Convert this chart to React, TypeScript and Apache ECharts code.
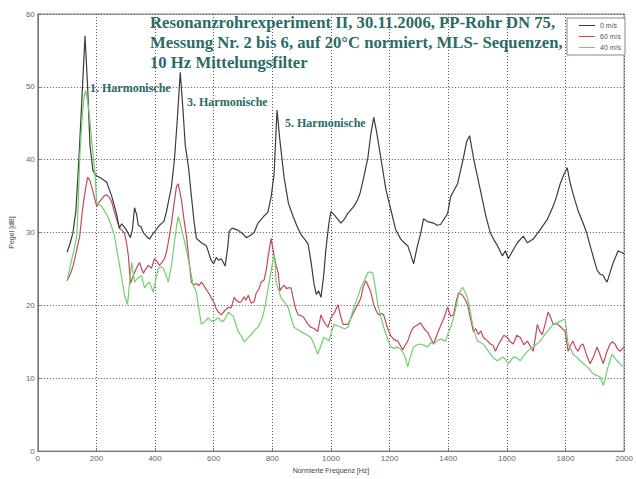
import React, { useEffect, useRef } from "react";
import * as echarts from "echarts";

const seriesNames = ["0 m/s", "60 m/s", "40 m/s"];
const xTicks = [0, 200, 400, 600, 800, 1000, 1200, 1400, 1600, 1800, 2000];

const freq0 = [100,110,120,130,140,150,161,170,178,188,200,215,235,252,269,278,286,300,316,323,330,337,343,352,360,370,381,392,400,415,430,439,456,466,475,486,495,503,514,524,533,541,558,575,592,600,609,616,626,639,648,653,663,684,700,711,725,738,751,770,785,796,806,816,825,840,855,871,885,898,912,922,932,942,950,958,966,975,983,993,1000,1012,1034,1045,1057,1078,1091,1100,1112,1126,1136,1146,1155,1170,1187,1204,1220,1238,1250,1262,1272,1282,1294,1306,1316,1330,1350,1362,1374,1388,1398,1408,1420,1432,1452,1463,1473,1486,1498,1510,1527,1544,1556,1568,1585,1595,1605,1620,1636,1656,1670,1690,1714,1738,1758,1770,1782,1795,1806,1815,1826,1843,1860,1872,1884,1896,1908,1918,1929,1935,1942,1952,1963,1980,1990,2000];
const level0 = [27.3,28.5,30,33,40,48,57,50,42,38.5,37.8,37.5,36.9,35,32.5,30.6,31.2,30.5,29.3,30.5,33.4,32.5,31,30.8,30,29.5,29.1,29.8,30.2,31,31.5,32.9,36.3,40,45,52,47,42,39,35,31.5,29.2,28.6,28.2,26.1,25.7,26.6,26.2,26.4,25.4,28,30.2,30.6,30.3,29.8,29.3,29.6,30,31.3,32.2,32.8,34.9,38,46.8,43,37.6,34,32.2,30.8,29.7,29,28.4,26,23,21.5,22,21.1,24,27.8,31.3,32.9,32.4,31.3,31.8,32.6,33.6,34.5,35.5,37.6,40.3,43.5,45.8,44,40.3,36,33.2,30.5,29.1,28.6,28.2,27,25.7,28,29.9,31.9,31.5,31.3,31,31.1,32,32.6,34.9,35.8,36.7,40.3,42.5,43.3,40.3,38,35.8,32.5,29.9,29,28.2,26.8,27.5,26.4,27.5,28.6,29.5,28.6,29.1,30.4,31.8,33.6,35,36.7,38,38.9,37,35.3,33,31.3,30,28.2,26.5,24.8,24.3,24.1,23.6,23.2,24.5,25.9,27.5,27.3,27.1];

const freq60 = [100,110,121,132,143,152,160,170,177,184,192,201,210,218,226,235,244,252,260,269,279,288,296,303,309,316,323,330,339,347,354,360,368,377,388,398,407,415,424,432,440,448,456,465,473,479,485,490,498,507,515,524,532,541,549,558,570,581,590,602,609,616,626,638,650,660,670,677,687,694,704,710,718,728,738,745,755,762,772,780,786,796,806,813,820,826,830,840,848,854,864,871,880,888,898,908,920,932,944,955,966,978,990,1000,1012,1024,1033,1041,1058,1068,1078,1090,1102,1110,1119,1128,1136,1146,1155,1163,1172,1180,1192,1204,1216,1228,1238,1245,1254,1262,1272,1282,1294,1306,1318,1330,1340,1350,1362,1374,1386,1398,1408,1418,1427,1435,1449,1458,1466,1476,1486,1494,1503,1511,1520,1532,1544,1553,1561,1570,1578,1590,1602,1612,1622,1634,1646,1658,1670,1680,1690,1697,1704,1712,1721,1731,1741,1750,1758,1770,1782,1790,1799,1809,1818,1826,1834,1843,1852,1860,1872,1884,1896,1908,1918,1929,1940,1952,1960,1969,1978,1986,2000];
const level60 = [23.4,24.2,25.5,27.5,29.5,33,35.3,37.6,37.2,36.3,35,33.6,34.2,34.6,35,35.2,34.8,34.2,33,31.8,30.6,30.3,29.9,28.5,26.8,23,23.8,24.5,25.3,25.9,25,24.4,25,25.5,25.1,26.4,26,25.5,25.9,26.4,27.5,29.3,31.3,34,36.3,36.7,35.5,34.5,32,29.5,26.5,23.2,22.8,23,22.7,23.2,22.5,21.8,21.2,20.3,19.5,19.1,18.7,19.3,19.7,19.7,21.1,20.7,20.4,20.5,21.2,20.7,21.4,20.3,20.5,21.7,22.3,23.2,23.5,25,26.8,29.2,26.8,25.5,24.5,22,22.3,22.8,22.3,22.4,22.4,21,19.5,18.7,18.6,18.3,17.5,17,16.8,16.4,18.7,17.6,17,18.3,19,20.1,18.5,17.4,17.4,18.2,19.1,20,21,22.5,23.4,22.6,21.8,20.1,19.2,18.7,18.9,18.7,17,15.8,15.3,15.1,14.4,13.9,14.6,15.1,16.3,17,17.3,17.6,16.8,16.3,15.5,14.7,16,17.2,18.3,19.8,18.5,18.7,20.5,21.7,21.4,20.8,20.1,18.2,16.4,16.8,16,16.5,15.6,15.2,14.7,14.5,13.7,14.5,15.1,15.9,15.6,15,14.7,15.9,15.6,14.6,15.1,14.4,13.7,15.5,17.4,16.5,16,17.5,19.1,18.3,17.4,17.5,17.1,16.8,16.4,13.7,14.6,15.1,14.2,13.7,14.5,14.7,13.2,12,13,14.3,13.2,12,13.5,14.7,15,14.7,14,13.7,14.3];

const freq40 = [100,110,121,133,138,143,150,157,163,170,177,184,190,196,201,210,218,230,241,252,262,270,279,288,296,306,313,320,330,342,354,364,372,381,394,402,411,420,428,437,445,456,466,473,479,487,496,505,513,522,530,541,547,558,570,581,590,599,608,616,624,633,642,650,660,667,676,684,694,704,716,728,740,751,760,769,778,786,795,803,808,813,822,830,842,854,864,874,886,898,915,932,944,955,966,976,985,993,1001,1010,1022,1034,1046,1058,1068,1078,1090,1102,1114,1126,1135,1143,1152,1160,1170,1180,1192,1204,1216,1228,1237,1245,1254,1262,1270,1282,1294,1306,1318,1330,1340,1350,1362,1374,1391,1401,1410,1418,1427,1435,1442,1449,1458,1466,1475,1483,1491,1500,1510,1520,1532,1544,1556,1568,1578,1588,1596,1605,1614,1622,1634,1646,1658,1670,1680,1690,1702,1714,1726,1738,1748,1758,1770,1782,1790,1799,1809,1818,1826,1838,1850,1862,1874,1884,1894,1906,1918,1924,1929,1936,1942,1950,1959,1968,1976,1986,1997];
const level40 = [23.4,25.3,27.2,29.5,34,40.3,45,48.5,49.5,48,45.7,42.5,40.3,37.5,34,33.8,33.6,32.8,32,30.8,29.5,27.5,25.5,23.3,21.4,20.1,23,25.9,23.2,23.8,24.1,22.4,22.9,23.2,21.8,23.5,25.1,25.3,25.1,24.2,23.2,25.5,28.6,30.8,32.2,31,29.5,28,26.4,24.5,22.8,21.8,20.1,17.4,17.8,18.3,17.9,17.8,18.1,18.3,17.9,17.8,18.4,19.1,18.7,18.5,17.3,16.4,15.8,15,15.5,16,16.6,17,17.7,18.7,20.5,22.4,24.5,26.4,26.8,23.2,22,21,20.4,19.7,18.3,17,16.7,16.4,16,15.6,14.5,13.3,14.5,15.6,15.4,15.1,16.2,17.4,17.2,17,16.8,17,18.3,19.7,21,22.4,23.5,24.5,24.6,24.4,22.3,20.1,18.5,17,15.6,14.3,14.1,14.3,14,13.6,12.8,11.6,12.8,14.3,14.6,14.7,14.5,14.3,14.9,14.7,15.1,15.4,15.1,16.3,17.2,18.3,19.8,21.4,22,22.5,21.8,21,19.2,17.4,16.2,15.1,14.9,14.7,14,13.3,12.7,12.4,12.7,12.9,12.5,12,12.5,12.9,12.8,12.4,13.1,13.7,14,14.3,14.7,15.1,15.8,16.4,16.9,17.4,17.6,17.8,18,18.1,14.7,14,13.3,12.9,12.4,12,11.6,11.1,10.6,10.4,10.2,9.6,9,10,11.1,12.2,13.3,12.8,12.4,12,11.6];

const titleLines = [
  "Resonanzrohrexperiment II, 30.11.2006, PP-Rohr DN 75,",
  "Messung Nr. 2 bis 6, auf 20°C normiert, MLS- Sequenzen,",
  "10 Hz Mittelungsfilter",
];
const harmonicLabels = ["1. Harmonische", "3. Harmonische", "5. Harmonische"];

const zip = (xs: number[], ys: number[]) => xs.map((x, i) => [x, ys[i]]);

export default function App() {
  const ref = useRef<HTMLDivElement>(null);
  useEffect(() => {
    if (!ref.current) return;
    const chart = echarts.init(ref.current, undefined, { renderer: "svg" });
    const colors = ["#3c3c3c", "#c4495c", "#6fcf6f"];
    const teal = "#2b6b66";
    const serif = "'Liberation Serif', 'DejaVu Serif', serif";
    const sans = "'Liberation Sans', Arial, sans-serif";
    const gridLine = { show: true, lineStyle: { color: "#555", type: [1, 2] as any, width: 1 } };
    chart.setOption({
      animation: false,
      backgroundColor: "#fff",
      grid: { left: 36, right: 11, top: 14, bottom: 20, show: true, borderColor: "#777", borderWidth: 1 },
      xAxis: {
        type: "value",
        min: xTicks[0],
        max: xTicks[xTicks.length - 1],
        interval: 200,
        name: "Normierte Frequenz [Hz]",
        nameLocation: "middle",
        nameGap: 13,
        nameTextStyle: { fontSize: 7, color: "#444", fontFamily: sans },
        axisLine: { show: true, lineStyle: { color: "#777" } },
        axisTick: { show: true, inside: true, length: 3, lineStyle: { color: "#777" } },
        axisLabel: { fontSize: 8, color: "#666", margin: 3, fontFamily: sans, formatter: (v: number) => String(v) },
        splitLine: gridLine,
      },
      yAxis: {
        type: "value",
        min: 0,
        max: 60,
        interval: 10,
        name: "Pegel [dB]",
        nameLocation: "middle",
        nameGap: 19,
        nameTextStyle: { fontSize: 7, color: "#444", fontFamily: sans },
        axisLine: { show: true, lineStyle: { color: "#777" } },
        axisTick: { show: true, inside: true, length: 3, lineStyle: { color: "#777" } },
        axisLabel: { fontSize: 8, color: "#666", margin: 3, fontFamily: sans, formatter: (v: number) => String(v) },
        splitLine: gridLine,
      },
      legend: {
        orient: "vertical",
        right: 11,
        top: 18,
        icon: "rect",
        itemWidth: 16,
        itemHeight: 1,
        itemGap: 4,
        padding: [4, 4, 4, 12],
        borderColor: "#888",
        borderWidth: 1,
        backgroundColor: "#fff",
        textStyle: { fontSize: 7, color: "#555", fontFamily: sans },
        data: seriesNames,
      },
      series: [
        { name: seriesNames[0], type: "line", data: zip(freq0, level0), showSymbol: false, lineStyle: { width: 1.2, color: colors[0] }, itemStyle: { color: colors[0] }, z: 3 },
        { name: seriesNames[1], type: "line", data: zip(freq60, level60), showSymbol: false, lineStyle: { width: 1.2, color: colors[1] }, itemStyle: { color: colors[1] }, z: 2 },
        { name: seriesNames[2], type: "line", data: zip(freq40, level40), showSymbol: false, lineStyle: { width: 1.2, color: colors[2] }, itemStyle: { color: colors[2] }, z: 4 },
      ],
      graphic: [
        ...titleLines.map((t, i) => ({
          type: "text",
          left: 150,
          top: 14 + i * 20,
          style: { text: t, fill: teal, font: `bold 16.7px ${serif}` },
          z: 10,
        })),
        { type: "text", left: 90, top: 82, style: { text: harmonicLabels[0], fill: teal, font: `bold 12px ${serif}` }, z: 10 },
        { type: "text", left: 187, top: 96, style: { text: harmonicLabels[1], fill: teal, font: `bold 12px ${serif}` }, z: 10 },
        { type: "text", left: 285, top: 117, style: { text: harmonicLabels[2], fill: teal, font: `bold 12px ${serif}` }, z: 10 },
      ],
    });
    return () => chart.dispose();
  }, []);
  return <div ref={ref} style={{ position: "fixed", left: 0, top: 0, width: 636, height: 479 }} />;
}
